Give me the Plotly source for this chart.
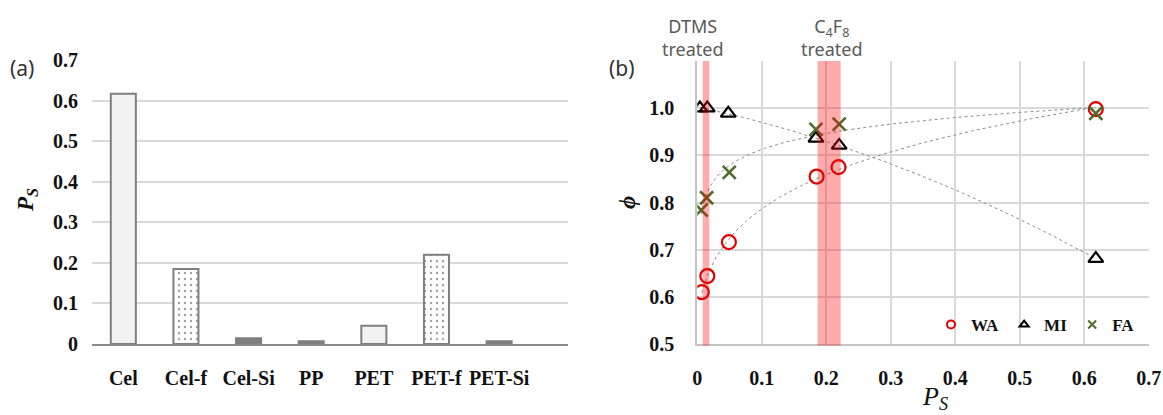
import numpy as np
import plotly.graph_objects as go

# ---------------- data ----------------
categories = ["Cel", "Cel-f", "Cel-Si", "PP", "PET", "PET-f", "PET-Si"]
ps_values = [0.617, 0.185, 0.014, 0.007, 0.045, 0.220, 0.007]

wa_x = [0.007, 0.0155, 0.049, 0.185, 0.219, 0.618]
wa_y = [0.610, 0.644, 0.716, 0.855, 0.875, 0.998]
mi_x = [0.004, 0.0155, 0.048, 0.184, 0.220, 0.618]
mi_y = [1.000, 1.000, 0.989, 0.936, 0.921, 0.681]
fa_x = [0.006, 0.0145, 0.0496, 0.184, 0.220, 0.618]
fa_y = [0.784, 0.810, 0.864, 0.955, 0.966, 0.989]

dtms_band = [0.0084, 0.0186]
c4f8_band = [0.1866, 0.2223]

a_yticks = [0, 0.1, 0.2, 0.3, 0.4, 0.5, 0.6, 0.7]
b_xticks = [0, 0.1, 0.2, 0.3, 0.4, 0.5, 0.6, 0.7]
b_yticks = [0.5, 0.6, 0.7, 0.8, 0.9, 1.0]

# ---------------- styles ----------------
W, H = 1163, 415
def px(x): return x / W
def py(y): return 1 - y / H

bar_fill = ["#f2f2f2", "#ffffff", "#7f7f7f", "#7f7f7f", "#f2f2f2", "#ffffff", "#7f7f7f"]
bar_pattern = ["", ".", "", "", "", ".", ""]
SERIF = "Liberation Serif"
SANS = "Noto Sans"
tick_font = dict(family=SERIF, size=20, color="#111111", weight="bold")

WA_C, MI_C, FA_C = "#e00000", "#000000", "#4f6b2a"

fig = go.Figure()

# panel (a) bars
fig.add_trace(go.Bar(
    x=categories, y=ps_values, width=0.4, xaxis="x", yaxis="y", showlegend=False,
    marker=dict(color=bar_fill, line=dict(color="#7f7f7f", width=2),
                pattern=dict(shape=bar_pattern, fgcolor="#9a9a9a", bgcolor="#ffffff",
                             size=6, solidity=0.12)),
))

# panel (b) trendlines (fitted from the data)
def log_fit(xs, ys, deg):
    lx = np.log(np.array(xs))
    c = np.polyfit(lx, np.array(ys), deg)
    g = np.linspace(min(xs), max(xs), 300)
    return g, np.polyval(c, np.log(g))

def poly_fit(xs, ys, deg):
    c = np.polyfit(np.array(xs), np.array(ys), deg)
    g = np.linspace(min(xs), max(xs), 300)
    return g, np.polyval(c, g)

for (gx, gy) in [log_fit(wa_x, wa_y, 2), poly_fit(mi_x, mi_y, 2), log_fit(fa_x, fa_y, 2)]:
    fig.add_trace(go.Scatter(x=gx, y=gy, mode="lines", xaxis="x2", yaxis="y2",
                             line=dict(color="#8c8c8c", width=1, dash="dot"),
                             showlegend=False, hoverinfo="skip"))

series = [("WA", wa_x, wa_y, "circle-open", 14, WA_C, 2.2, 8),
          ("MI", mi_x, mi_y, "triangle-up-open", 13, MI_C, 2.2, 8),
          ("FA", fa_x, fa_y, "x-thin", 13, FA_C, 2.6, 8)]
for name, xs, ys, sym, size, col, lw, lsize in series:
    fig.add_trace(go.Scatter(x=xs, y=ys, mode="markers", name=name, xaxis="x2", yaxis="y2",
                             showlegend=False,
                             marker=dict(symbol=sym, size=size, color=col,
                                         line=dict(width=lw, color=col))))
    # legend entry with small symbol (no data drawn)
    fig.add_trace(go.Scatter(x=[None], y=[None], mode="markers", name=name, xaxis="x2",
                             yaxis="y2", showlegend=True,
                             marker=dict(symbol=sym, size=lsize, color=col,
                                         line=dict(width=2, color=col))))

# bands
for band in (dtms_band, c4f8_band):
    fig.add_shape(type="rect", xref="x2", yref="y2 domain", x0=band[0], x1=band[1],
                  y0=-0.005, y1=1, fillcolor="rgba(255,0,0,0.33)", line=dict(width=0),
                  layer="above")

grid = "#d9d9d9"
fig.update_layout(
    width=W, height=H, margin=dict(l=0, r=0, t=0, b=0, autoexpand=False),
    paper_bgcolor="white", plot_bgcolor="white",
    xaxis=dict(domain=[px(92), px(568)], type="category", range=[-0.5, 7.1],
               showline=True, linecolor="#8c8c8c", linewidth=2, showgrid=False,
               ticks="", tickfont=tick_font, ticklabelstandoff=15, anchor="y"),
    yaxis=dict(domain=[py(344), py(60)], range=[0, 0.7], tickvals=a_yticks,
               showgrid=True, gridcolor=grid, gridwidth=2, zeroline=False,
               showline=False, ticks="", tickfont=tick_font, ticklabelstandoff=13,
               anchor="x"),
    xaxis2=dict(domain=[px(697.3), px(1148.7)], range=[0, 0.7], tickvals=b_xticks,
                showgrid=True, gridcolor=grid, gridwidth=2, zeroline=False,
                showline=True, linecolor="#c4c4c4", linewidth=2, ticks="",
                tickfont=tick_font, ticklabelstandoff=15, anchor="y2"),
    yaxis2=dict(domain=[py(344), py(61)], range=[0.5, 1.1], tickvals=b_yticks,
                tickformat=".1f", showgrid=True, gridcolor=grid, gridwidth=2,
                zeroline=False, showline=True, linecolor="#c4c4c4", linewidth=2,
                ticks="", tickfont=tick_font, ticklabelstandoff=17, anchor="x2"),
    legend=dict(orientation="h", x=px(1140), xanchor="right", y=py(325), yanchor="middle",
                bgcolor="rgba(0,0,0,0)", font=dict(family=SERIF, size=17, color="#111111",
                                                    weight="bold"),
                itemwidth=30, tracegroupgap=0),
)

ann = []
ann.append(dict(text="(a)", x=px(22), y=py(68), font=dict(family=SANS, size=21, color="#333333")))
ann.append(dict(text="(b)", x=px(622), y=py(68), font=dict(family=SANS, size=21, color="#333333")))
ann.append(dict(text="DTMS<br>treated", x=px(693), y=py(38),
                font=dict(family=SANS, size=18, color="#595959")))
ann.append(dict(text="C<sub>4</sub>F<sub>8</sub><br>treated", x=px(832), y=py(38),
                font=dict(family=SANS, size=18, color="#595959")))
ann.append(dict(text="<i>P<sub>S</sub></i>", x=px(27), y=py(200), textangle=-90,
                font=dict(family=SERIF, size=23, color="#111111", weight="bold")))
ann.append(dict(text="<i>ϕ</i>", x=px(627), y=py(203), textangle=-90,
                font=dict(family=SERIF, size=23, color="#111111", weight="bold")))
ann.append(dict(text="<i>P<sub>S</sub></i>", x=px(935), y=py(398),
                font=dict(family=SERIF, size=26, color="#111111")))
for a in ann:
    a.update(xref="paper", yref="paper", showarrow=False, xanchor="center", yanchor="middle")
    fig.add_annotation(**a)

fig.write_html("out.html",
               config={"displayModeBar": False},
               post_script="document.body.style.margin='0';"
                           "document.body.style.overflow='hidden';")
